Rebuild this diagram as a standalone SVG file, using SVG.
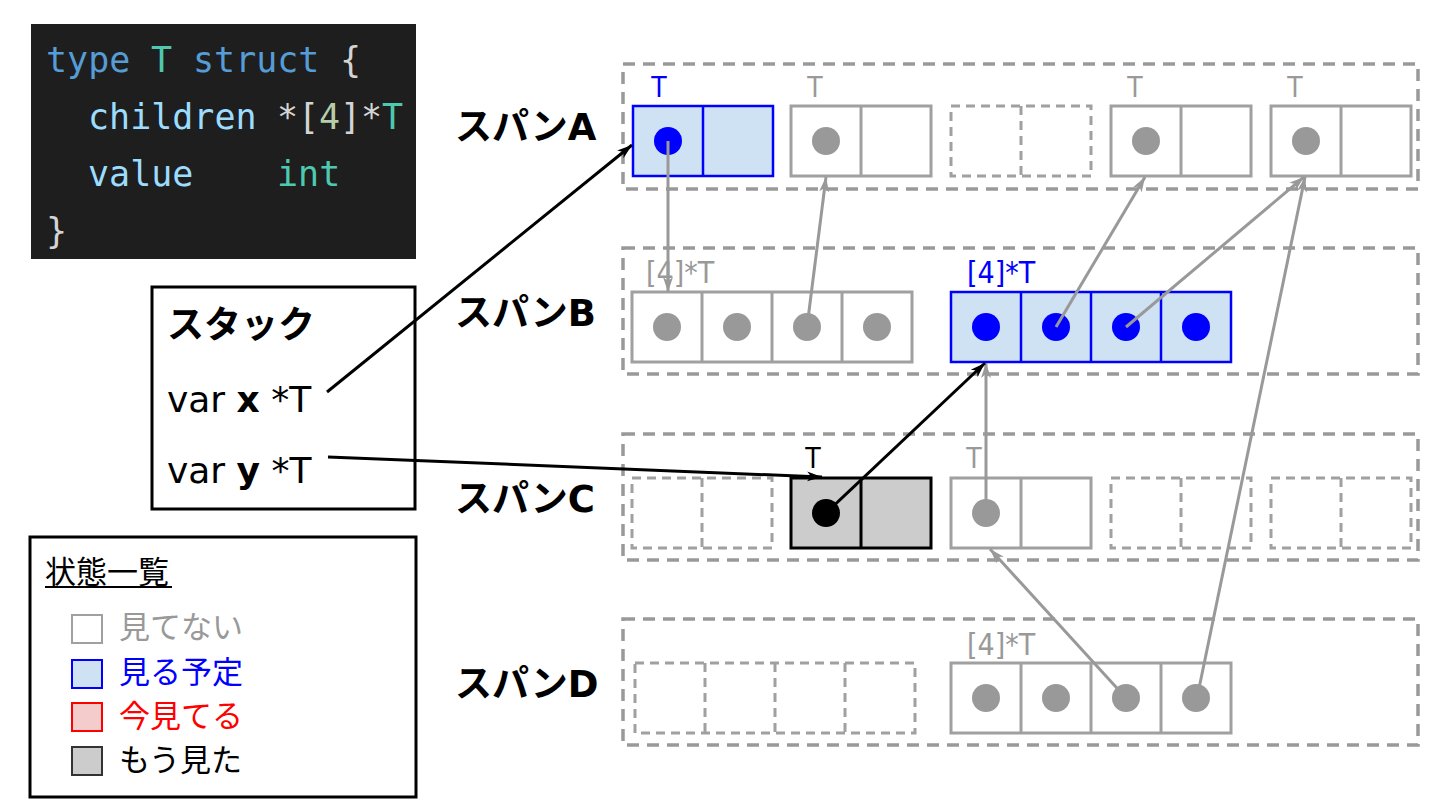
<svg xmlns="http://www.w3.org/2000/svg" width="1440" height="810" viewBox="0 0 1440 810">
<defs>
<style>
.code{font-family:"DejaVu Sans Mono","Liberation Mono",monospace;font-size:35px}
.kw{fill:#569cd6}.ty{fill:#4ec9b0}.id{fill:#9cdcfe}.pn{fill:#d4d4d4}.nm{fill:#b5cea8}
.lbl{font-family:"DejaVu Sans","Noto Sans CJK JP",sans-serif;font-weight:bold;font-size:37px;fill:#000}
.stk{font-family:"DejaVu Sans","Noto Sans CJK JP",sans-serif;font-size:36px;fill:#000}
.typ{font-family:"DejaVu Sans Condensed","DejaVu Sans",sans-serif;font-stretch:condensed;font-size:30px}
.tl{font-family:"DejaVu Sans Condensed","DejaVu Sans",sans-serif;font-stretch:condensed;font-size:28px;text-anchor:middle}
.leg{font-family:"Noto Sans CJK JP",sans-serif;font-size:31px}
.span{fill:none;stroke:#999999;stroke-width:3.5;stroke-dasharray:12 8}
.g{fill:#fff;stroke:#a0a0a0;stroke-width:3}
.gl{stroke:#a0a0a0;stroke-width:3}
.d{fill:#fff;stroke:#a0a0a0;stroke-width:3;stroke-dasharray:9 6}
.dl{stroke:#a0a0a0;stroke-width:3;stroke-dasharray:9 6}
.b{fill:#cfe2f3;stroke:#0000ff;stroke-width:2.5}
.bl{stroke:#0000ff;stroke-width:2.5}
.k{fill:#cccccc;stroke:#000;stroke-width:3}
.kl{stroke:#000;stroke-width:3}
.cg{fill:#999999}.cb{fill:#0000ff}.ck{fill:#000}
.ag{stroke:#999999;stroke-width:3;fill:none;marker-end:url(#mg)}
.ak{stroke:#000;stroke-width:3;fill:none;marker-end:url(#mk)}
</style>
<marker id="mg" markerUnits="userSpaceOnUse" markerWidth="16" markerHeight="12" refX="15" refY="5" orient="auto" viewBox="0 0 16 10">
<path d="M0,0 L15,5 L0,10 L4,5 z" fill="#999999"/>
</marker>
<marker id="mk" markerUnits="userSpaceOnUse" markerWidth="16" markerHeight="12" refX="15" refY="5" orient="auto" viewBox="0 0 16 10">
<path d="M0,0 L15,5 L0,10 L4,5 z" fill="#000"/>
</marker>
</defs>
<rect width="1440" height="810" fill="#fff"/>

<g id="code">
<rect x="31" y="24" width="385" height="235" fill="#1e1e1e"/>
<text class="code" y="72"><tspan x="46" class="kw">type</tspan><tspan x="151" class="ty">T</tspan><tspan x="193" class="kw">struct</tspan><tspan x="340" class="pn">{</tspan></text>
<text class="code" y="129"><tspan x="88" class="id">children</tspan><tspan x="277" class="pn">*[</tspan><tspan x="319" class="nm">4</tspan><tspan x="340" class="pn">]*</tspan><tspan x="382" class="ty">T</tspan></text>
<text class="code" y="186"><tspan x="88" class="id">value</tspan><tspan x="277" class="ty">int</tspan></text>
<text class="code" y="243"><tspan x="46" class="pn">}</tspan></text>
</g>

<g id="stack">
<rect x="152" y="287" width="263" height="222" fill="#fff" stroke="#000" stroke-width="3"/>
<text x="167" y="338" font-family="'Noto Sans CJK JP',sans-serif" font-weight="bold" font-size="37">スタック</text>
<text class="stk" x="167" y="412">var <tspan font-weight="bold">x</tspan> *T</text>
<text class="stk" x="167" y="483">var <tspan font-weight="bold">y</tspan> *T</text>
</g>

<g id="legend">
<rect x="30" y="537" width="386" height="260" fill="#fff" stroke="#000" stroke-width="3"/>
<text class="leg" x="45" y="583" fill="#000">状態一覧</text>
<line x1="45" y1="587" x2="172" y2="587" stroke="#000" stroke-width="2"/>
<rect x="72" y="615" width="30" height="28" fill="#fff" stroke="#a0a0a0" stroke-width="2"/>
<text class="leg" x="119" y="638" fill="#999999">見てない</text>
<rect x="72" y="660" width="30" height="28" fill="#cfe2f3" stroke="#0000ff" stroke-width="2"/>
<text class="leg" x="119" y="683" fill="#0000ff">見る予定</text>
<rect x="72" y="703" width="30" height="28" fill="#f4cccc" stroke="#ff0000" stroke-width="2"/>
<text class="leg" x="119" y="727" fill="#ff0000">今見てる</text>
<rect x="72" y="747" width="30" height="28" fill="#cccccc" stroke="#333" stroke-width="2"/>
<text class="leg" x="119" y="771" fill="#000">もう見た</text>
</g>

<g id="spanA">
<text class="lbl" x="455" y="140">スパンA</text>
<rect class="span" x="623" y="64" width="795" height="125"/>
<rect class="b" x="633" y="106" width="140" height="70"/><line class="bl" x1="703" y1="106" x2="703" y2="176"/>
<circle class="cb" cx="668" cy="141" r="14"/>
<text class="tl" x="659" y="97" fill="#0000ff">T</text>
<rect class="g" x="791" y="106" width="140" height="70"/><line class="gl" x1="861" y1="106" x2="861" y2="176"/>
<circle class="cg" cx="826" cy="141" r="14"/>
<text class="tl" x="815" y="97" fill="#999999">T</text>
<rect class="d" x="951" y="106" width="140" height="70"/><line class="dl" x1="1021" y1="106" x2="1021" y2="176"/>
<rect class="g" x="1111" y="106" width="140" height="70"/><line class="gl" x1="1181" y1="106" x2="1181" y2="176"/>
<circle class="cg" cx="1146" cy="141" r="14"/>
<text class="tl" x="1135" y="97" fill="#999999">T</text>
<rect class="g" x="1271" y="106" width="140" height="70"/><line class="gl" x1="1341" y1="106" x2="1341" y2="176"/>
<circle class="cg" cx="1306" cy="141" r="14"/>
<text class="tl" x="1295" y="97" fill="#999999">T</text>
</g>

<g id="spanB">
<text class="lbl" x="455" y="326">スパンB</text>
<rect class="span" x="623" y="248" width="795" height="126"/>
<text class="typ" x="646" y="283" fill="#999999">[4]*T</text>
<rect class="g" x="632" y="292" width="280" height="70"/>
<line class="gl" x1="702" y1="292" x2="702" y2="362"/><line class="gl" x1="772" y1="292" x2="772" y2="362"/><line class="gl" x1="842" y1="292" x2="842" y2="362"/>
<circle class="cg" cx="667" cy="327" r="14"/><circle class="cg" cx="737" cy="327" r="14"/><circle class="cg" cx="807" cy="327" r="14"/><circle class="cg" cx="877" cy="327" r="14"/>
<text class="typ" x="967" y="283" fill="#0000ff">[4]*T</text>
<rect class="b" x="951" y="292" width="280" height="70"/>
<line class="bl" x1="1021" y1="292" x2="1021" y2="362"/><line class="bl" x1="1091" y1="292" x2="1091" y2="362"/><line class="bl" x1="1161" y1="292" x2="1161" y2="362"/>
<circle class="cb" cx="986" cy="327" r="14"/><circle class="cb" cx="1056" cy="327" r="14"/><circle class="cb" cx="1126" cy="327" r="14"/><circle class="cb" cx="1196" cy="327" r="14"/>
</g>

<g id="spanC">
<text class="lbl" x="455" y="512">スパンC</text>
<rect class="span" x="623" y="434" width="795" height="126"/>
<rect class="d" x="632" y="478" width="140" height="70"/><line class="dl" x1="702" y1="478" x2="702" y2="548"/>
<rect class="k" x="791" y="478" width="140" height="70"/><line class="kl" x1="861" y1="478" x2="861" y2="548"/>
<circle class="ck" cx="826" cy="513" r="14"/>
<text class="tl" x="813" y="468" fill="#000">T</text>
<rect class="g" x="951" y="478" width="140" height="70"/><line class="gl" x1="1021" y1="478" x2="1021" y2="548"/>
<circle class="cg" cx="986" cy="513" r="14"/>
<text class="tl" x="974" y="468" fill="#999999">T</text>
<rect class="d" x="1111" y="478" width="140" height="70"/><line class="dl" x1="1181" y1="478" x2="1181" y2="548"/>
<rect class="d" x="1271" y="478" width="140" height="70"/><line class="dl" x1="1341" y1="478" x2="1341" y2="548"/>
</g>

<g id="spanD">
<text class="lbl" x="455" y="697">スパンD</text>
<rect class="span" x="623" y="619" width="795" height="126"/>
<rect class="d" x="635" y="663" width="280" height="70"/>
<line class="dl" x1="705" y1="663" x2="705" y2="733"/><line class="dl" x1="775" y1="663" x2="775" y2="733"/><line class="dl" x1="845" y1="663" x2="845" y2="733"/>
<text class="typ" x="967" y="655" fill="#999999">[4]*T</text>
<rect class="g" x="951" y="663" width="280" height="70"/>
<line class="gl" x1="1021" y1="663" x2="1021" y2="733"/><line class="gl" x1="1091" y1="663" x2="1091" y2="733"/><line class="gl" x1="1161" y1="663" x2="1161" y2="733"/>
<circle class="cg" cx="986" cy="698" r="14"/><circle class="cg" cx="1056" cy="698" r="14"/><circle class="cg" cx="1126" cy="698" r="14"/><circle class="cg" cx="1196" cy="698" r="14"/>
</g>

<g id="connectors">
<line class="ag" x1="668" y1="141" x2="668" y2="292"/>
<line class="ag" x1="807" y1="327" x2="826" y2="177"/>
<line class="ag" x1="1056" y1="327" x2="1145" y2="177"/>
<line class="ag" x1="1126" y1="327" x2="1304" y2="177"/>
<line class="ag" x1="1197" y1="698" x2="1305" y2="177"/>
<line class="ag" x1="986" y1="513" x2="986" y2="363"/>
<line class="ag" x1="1126" y1="698" x2="990" y2="549"/>
<line class="ak" x1="327" y1="392" x2="632" y2="145"/>
<line class="ak" x1="328" y1="457" x2="822" y2="477"/>
<line class="ak" x1="826" y1="513" x2="985" y2="363"/>
</g>
</svg>
